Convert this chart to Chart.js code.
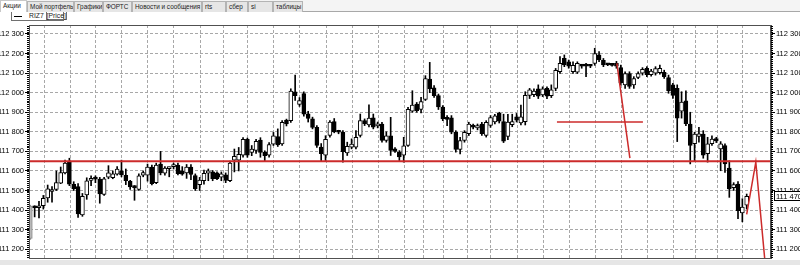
<!DOCTYPE html>
<html lang="ru">
<head>
<meta charset="utf-8">
<title>RIZ7</title>
<script src="https://cdn.jsdelivr.net/npm/chart.js@4.4.1/dist/chart.umd.min.js"></script>
<style>
  html, body { margin: 0; padding: 0; background: #fff; }
  body { width: 800px; height: 265px; position: relative; overflow: hidden; font-family: "Liberation Sans", Arial, sans-serif; }
  #tabs { position: absolute; left: 0; top: 0; width: 800px; height: 12px; background: #f4f4f4; border-bottom: 1px solid #a8a8a8; box-sizing: border-box; }
  .tab { position: absolute; top: 1px; height: 11px; box-sizing: border-box; border: 1px solid #b4b4b4; border-bottom: none; background: #e6e6e6; font-size: 6.4px; line-height: 10px; padding-left: 2px; color: #222; white-space: nowrap; overflow: hidden; }
  .tab.on { background: #fff; top: 0; height: 12px; border-color: #c8c8c8; }
  #legend { position: absolute; left: 11px; top: 12px; height: 9px; width: 53px; box-sizing: border-box; border: 1px solid #707070; border-top: none; font-size: 6.8px; line-height: 8px; color: #222; white-space: nowrap; }
  #legend .dash { display: inline-block; width: 8px; height: 1px; background: #000; vertical-align: middle; margin: 0 7px 0 2px; }
  #legend .box { border: 1px solid #707070; border-top: none; padding: 0; }
  #bottom { position: absolute; left: 0; top: 260px; width: 800px; height: 5px; background: #e6e6e6; }
  #chart { position: absolute; left: 0; top: 0; }
</style>
</head>
<body>
<div id="tabs">
  <div class="tab on" style="left:0;width:27px;">Акции</div>
  <div class="tab" style="left:27px;width:47px;">Мой портфель</div>
  <div class="tab" style="left:74px;width:29px;">Графики</div>
  <div class="tab" style="left:103px;width:29px;">ФОРТС</div>
  <div class="tab" style="left:132px;width:70px;">Новости и сообщения</div>
  <div class="tab" style="left:202px;width:24px;">rts</div>
  <div class="tab" style="left:226px;width:22px;">сбер</div>
  <div class="tab" style="left:248px;width:25px;">si</div>
  <div class="tab" style="left:273px;width:30px;">таблицы</div>
</div>
<div id="legend"><span class="dash"></span>RIZ7 <span class="box">[Price]</span></div>
<div id="bottom"></div>
<canvas id="chart" width="800" height="265"></canvas>
<script>
// свечи RIZ7 (open / high / low / close), по порядку слева направо
const opens = [
  111255,111418,111412,111422,111462,111495,111505,111538,111590,111645,
  111532,111520,111375,111478,111552,111560,111558,111480,111568,111565,
  111584,111600,111578,111548,111520,111505,111578,111578,111620,111540,
  111635,111588,111612,111622,111630,111600,111590,111620,111576,111530,
  111550,111588,111595,111590,111568,111580,111550,111655,111655,111680,
  111762,111695,111705,111758,111695,111680,111737,111776,111738,111860,
  111857,112005,111940,111995,111892,111866,111823,111722,111680,111782,
  111852,111803,111798,111692,111722,111722,111782,111858,111835,111872,
  111830,111840,111756,111780,111713,111696,111680,111730,111905,111942,
  111914,111966,112070,112025,111985,111926,111874,111872,111798,111710,
  111756,111790,111832,111820,111840,111782,111833,111850,111895,111852,
  111777,111836,111877,111845,111852,111986,111990,112020,111988,112022,
  111985,112022,112108,112175,112158,112108,112105,112138,112138,112137,
  112150,112193,112166,112144,112142,112150,112128,112040,112098,112040,
  112078,112100,112124,112092,112100,112102,112104,112077,112040,112022,
  111905,111958,111840,111740,111776,111788,111688,111740,111765,111712,
  111730,111614,111515,111533,111385,111425
];
const highs = [
  111425,111422,111445,111475,111528,111520,111600,111620,111655,111665,
  111545,111535,111485,111565,111575,111575,111567,111567,111627,111600,
  111622,111655,111610,111552,111525,111585,111600,111635,111630,111640,
  111700,111622,111620,111640,111640,111622,111633,111633,111585,111567,
  111605,111610,111602,111595,111595,111590,111650,111712,111720,111770,
  111768,111730,111762,111770,111703,111745,111797,111815,111858,111865,
  112020,112090,111975,112005,111905,111875,111832,111740,111780,111858,
  111868,111808,111806,111747,111764,111806,111891,111866,111938,111891,
  111850,111848,111800,111874,111720,111704,111772,111925,112010,111950,
  111976,112087,112155,112036,111993,111934,111883,111883,111806,111772,
  111806,111849,111840,111840,111849,111857,111883,111890,111900,111890,
  111890,111890,111894,111937,112005,112022,112020,112040,112030,112030,
  112040,112124,112184,112193,112167,112158,112158,112145,112150,112145,
  112227,112210,112175,112150,112148,112160,112141,112107,112107,112082,
  112107,112128,112133,112120,112133,112141,112115,112090,112048,112040,
  112005,112010,111900,111798,111823,111806,111772,111780,111772,111750,
  111738,111652,111540,111545,111458,111482
];
const lows = [
  111250,111365,111360,111405,111440,111440,111500,111535,111585,111525,
  111500,111362,111368,111455,111525,111540,111435,111475,111560,111560,
  111578,111570,111530,111505,111450,111500,111570,111548,111528,111535,
  111580,111578,111570,111610,111580,111578,111562,111555,111500,111500,
  111533,111550,111550,111555,111550,111540,111545,111595,111600,111670,
  111670,111678,111690,111670,111652,111670,111730,111725,111730,111830,
  111848,111960,111930,111880,111850,111815,111720,111652,111653,111773,
  111795,111790,111645,111679,111713,111713,111773,111832,111825,111815,
  111820,111747,111747,111679,111695,111653,111645,111725,111900,111900,
  111897,111960,112000,111976,111914,111857,111832,111790,111696,111687,
  111747,111781,111815,111810,111781,111773,111823,111840,111845,111745,
  111760,111826,111850,111835,111835,111970,111980,111970,111980,111970,
  111975,112010,112098,112133,112125,112098,112098,112125,112082,112128,
  112140,112158,112133,112138,112135,112125,112039,112022,112022,112022,
  112072,112090,112082,112085,112090,112095,112073,111997,111971,111750,
  111870,111832,111636,111652,111747,111665,111645,111730,111745,111601,
  111593,111465,111500,111356,111340,111405
];
const closes = [
  111420,111412,111420,111460,111508,111505,111540,111592,111640,111533,
  111510,111380,111470,111550,111562,111558,111482,111560,111590,111585,
  111610,111580,111550,111518,111515,111575,111592,111620,111535,111630,
  111590,111615,111616,111625,111586,111584,111620,111582,111510,111553,
  111588,111600,111560,111560,111585,111552,111640,111675,111685,111762,
  111680,111712,111752,111695,111678,111735,111780,111733,111848,111840,
  112008,111985,111960,111890,111868,111822,111730,111688,111762,111850,
  111800,111798,111698,111726,111737,111772,111857,111842,111870,111824,
  111840,111756,111780,111705,111700,111672,111728,111915,111937,111908,
  111955,112072,112020,111985,111927,111866,111863,111798,111710,111755,
  111798,111840,111824,111832,111790,111848,111873,111882,111855,111752,
  111850,111852,111860,111877,111986,112014,112008,111982,112020,111982,
  112015,112114,112150,112142,112135,112140,112150,112136,112136,112135,
  112200,112168,112142,112142,112140,112135,112050,112098,112032,112072,
  112098,112120,112092,112110,112123,112124,112082,112010,111986,111870,
  111952,111842,111730,111788,111790,111680,111738,111763,111753,111738,
  111636,111508,111530,111397,111415,111470
];

// шкала цены
const yTicks = [111200,111250,111300,111350,111400,111450,111500,111550,111600,111650,111700,111750,
                111800,111850,111900,111950,112000,112050,112100,112150,112200,112250,112300];
// вертикальная сетка (позиции в номерах свечей)
const gridX = [6.26,12.07,17.96,24.0,30.0,36.14,42.15,46.96,53.09,59.12,65.11,71.14,77.06,83.19,
               89.2,92.15,98.18,103.09,109.1,115.13,121.14,127.15,133.19,139.2,145.21,151.24,155.27,161.08];

// красные линии пользователя
const levelX = [-0.3, 170.6],      levelY = [111650, 111650];
const shortX = [121.3, 141.1],     shortY = [111850, 111850];
const trendX = [135.1, 138.1],     trendY = [112150, 111665];
const zigX   = [165.0, 167.1, 169.2], zigY = [111378, 111645, 111140];

const RED = '#cc2b2b';
const GRID = '#a8a8a8';
const FONT = { family: "'Liberation Sans', Arial, sans-serif", size: 7.5 };

function toPoints(xs, ys) { return xs.map((x, i) => ({ x: x, y: ys[i] })); }
function fmt(v) { return String(v).replace(/\B(?=(\d{3})+(?!\d))/g, ' '); }

const wicks = opens.map((o, i) => ({ x: i, y: [lows[i], highs[i]] }));
const bodies = opens.map((o, i) => ({ x: i, y: [Math.min(o, closes[i]), Math.max(o, closes[i])] }));
const bodyFill = opens.map((o, i) => i === 0 ? '#b8b8b8' : (closes[i] >= o ? '#ffffff' : '#000000'));
const bodyLine = opens.map((o, i) => i === 0 ? '#8c8c8c' : '#000000');

// рамка области графика
const frame = {
  id: 'frame',
  afterDraw(chart) {
    const a = chart.chartArea, c = chart.ctx;
    c.save();
    c.strokeStyle = '#505050';
    c.lineWidth = 1;
    c.strokeRect(Math.round(a.left) + 0.5, Math.round(a.top) + 0.5, Math.round(a.right - a.left) - 1, Math.round(a.bottom - a.top));
    c.restore();
  }
};

// мелкие засечки на шкалах
const minorTicks = {
  id: 'minorTicks',
  afterDraw(chart) {
    const y = chart.scales.y, a = chart.chartArea, c = chart.ctx;
    c.save();
    c.strokeStyle = '#000';
    c.lineWidth = 1;
    c.beginPath();
    for (let v = 111160; v <= 112340; v += 10) {
      const p = Math.round(y.getPixelForValue(v)) + 0.5;
      c.moveTo(a.left - 2, p); c.lineTo(a.left, p);
      c.moveTo(a.right, p); c.lineTo(a.right + 2, p);
    }
    c.stroke();
    c.restore();
  }
};

// метка последней цены справа
const lastPrice = {
  id: 'lastPrice',
  afterDraw(chart) {
    const y = chart.scales.y, a = chart.chartArea, c = chart.ctx;
    const last = closes[closes.length - 1];
    const p = Math.round(y.getPixelForValue(last));
    c.save();
    c.fillStyle = '#fff';
    c.strokeStyle = '#000';
    c.fillRect(a.right + 3, p - 5, 30, 10);
    c.strokeRect(a.right + 3.5, p - 4.5, 30, 9);
    c.fillStyle = '#000';
    c.font = FONT.size + 'px ' + FONT.family;
    c.textBaseline = 'middle';
    c.fillText(fmt(last), a.right + 5, p + 0.5);
    c.restore();
  }
};

const yCommon = {
  min: 111155,
  max: 112346,
  afterBuildTicks: s => { s.ticks = yTicks.map(v => ({ value: v })); },
  afterFit: s => { s.width = 29; },
  ticks: { font: FONT, color: '#000', padding: 1, callback: v => fmt(v) }
};

new Chart(document.getElementById('chart').getContext('2d'), {
  type: 'bar',
  data: {
    datasets: [
      { type: 'line', data: toPoints(levelX, levelY), borderColor: RED, borderWidth: 2, pointRadius: 0, order: 1 },
      { type: 'line', data: toPoints(shortX, shortY), borderColor: RED, borderWidth: 1.5, pointRadius: 0, order: 1 },
      { type: 'line', data: toPoints(trendX, trendY), borderColor: RED, borderWidth: 1.5, pointRadius: 0, order: 1 },
      { type: 'line', data: toPoints(zigX, zigY), borderColor: RED, borderWidth: 1.5, pointRadius: 0, order: 1 },
      { label: 'body', data: bodies, backgroundColor: bodyFill, borderColor: bodyLine, borderWidth: 1,
        borderSkipped: false, barThickness: 4, minBarLength: 2, grouped: false, order: 2 },
      { label: 'wick', data: wicks, backgroundColor: opens.map((o, i) => i === 0 ? '#8c8c8c' : '#000'),
        barThickness: 1, grouped: false, order: 3 }
    ]
  },
  options: {
    responsive: false,
    animation: false,
    events: [],
    layout: { padding: { top: 25, bottom: 7, left: 0, right: 0 } },
    plugins: { legend: { display: false }, tooltip: { enabled: false } },
    scales: {
      x: {
        type: 'linear', min: -0.3, max: 170.6, offset: false,
        afterBuildTicks: s => { s.ticks = gridX.map(v => ({ value: v })); },
        afterFit: s => { s.height = 0; },
        ticks: { display: false },
        grid: { color: GRID, drawTicks: false },
        border: { display: true, color: '#505050', dash: [3, 2] }
      },
      y: Object.assign({}, yCommon, {
        position: 'left',
        grid: { color: GRID, tickLength: 4, tickColor: '#000' },
        border: { color: '#505050', dash: [3, 2] }
      }),
      y2: Object.assign({}, yCommon, {
        position: 'right',
        grid: { drawOnChartArea: false, tickLength: 4, tickColor: '#000' },
        border: { color: '#505050' }
      })
    }
  },
  plugins: [frame, minorTicks, lastPrice]
});
</script>
</body>
</html>
